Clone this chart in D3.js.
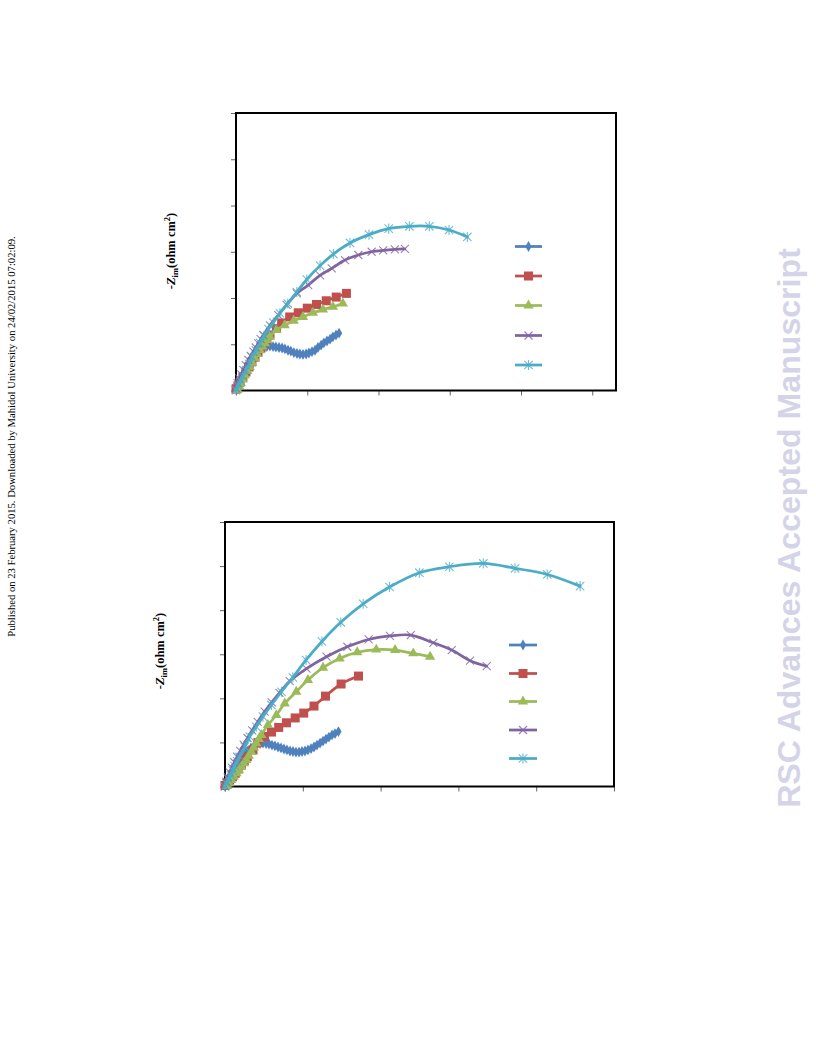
<!DOCTYPE html>
<html>
<head>
<meta charset="utf-8">
<script src="https://cdn.jsdelivr.net/npm/d3@7"></script>
<style>
  html, body { margin: 0; padding: 0; background: #fff; }
  svg { display: block; }
</style>
</head>
<body>
<svg id="page" width="816" height="1056"></svg>
<script>
// ---------- DATA (Zre, -Zim) ----------
const topXTicks = [0, 300, 600, 900, 1200, 1500];
const topYTicks = [0, 100, 200, 300, 400, 500, 600];
const bottomXTicks = [0, 500, 1000, 1500, 2000, 2500];
const bottomYTicks = [0, 200, 400, 600, 800, 1000, 1200];

const topBlue = [[4,3],[8,10],[13,16],[17,23],[23,29],[29,36],[36,42],[42,49],[51,55],[59,62],[67,68],[76,75],[84,81],[93,85],[105,90],[118,93],[130,95],[143,96],[156,95],[168,94],[181,93],[194,92],[206,90],[219,87],[231,85],[244,82],[257,80],[269,79],[282,78],[295,79],[307,81],[320,84],[333,87],[345,93],[358,98],[370,103],[383,107],[396,111],[408,116],[421,120],[434,124]];
const topRed = [[0,3],[8,10],[17,18],[29,29],[42,40],[55,51],[67,62],[80,72],[93,83],[105,92],[118,103],[130,111],[143,120],[170,134],[192,146],[226,159],[262,168],[300,178],[339,186],[380,194],[422,202],[465,210]];
const topGreen = [[6,1],[13,9],[20,16],[28,24],[37,33],[47,42],[58,51],[68,60],[79,70],[89,79],[100,87],[110,95],[121,102],[131,109],[142,116],[170,131],[205,141],[243,151],[282,159],[324,168],[366,175],[408,181],[450,188]];
const topPurple = [[0,5],[7,16],[14,26],[22,35],[31,44],[41,55],[52,66],[62,75],[73,84],[83,93],[94,102],[104,111],[115,120],[143,141],[178,163],[213,185],[256,210],[304,228],[354,249],[403,264],[459,282],[515,293],[571,300],[620,303],[669,305],[711,306]];
const topCyan = [[0,1],[8,10],[19,21],[29,31],[42,44],[55,57],[67,72],[84,87],[101,103],[118,118],[137,133],[157,147],[185,167],[218,188],[256,213],[298,240],[354,270],[410,295],[480,319],[560,337],[643,350],[730,355],[814,355],[897,347],[974,332]];

const bottomBlue = [[0,2],[10,16],[19,29],[29,43],[39,57],[51,70],[64,84],[77,98],[90,111],[103,125],[116,138],[132,152],[148,163],[167,175],[186,184],[206,190],[225,195],[244,197],[264,195],[283,193],[302,188],[321,184],[341,179],[360,175],[379,170],[398,166],[418,161],[437,159],[456,156],[476,156],[495,159],[514,161],[533,166],[553,172],[572,179],[591,188],[611,197],[630,206],[649,215],[668,224],[688,234],[707,240],[729,249]];
const bottomRed = [[0,5],[15,17],[30,29],[48,44],[66,60],[85,79],[105,98],[124,117],[143,135],[180,166],[212,199],[254,227],[299,247],[345,268],[395,289],[451,311],[506,333],[572,365],[646,410],[746,465],[858,501]];
const bottomGreen = [[13,2],[26,15],[40,29],[56,44],[73,60],[89,75],[105,90],[121,105],[137,120],[153,139],[169,158],[185,177],[201,196],[217,215],[233,234],[276,279],[330,324],[384,377],[458,430],[533,483],[630,539],[737,581],[850,609],[972,621],[1093,619],[1210,604],[1318,589]];
const bottomPurple = [[0,2],[8,22],[18,42],[30,64],[44,86],[60,110],[78,135],[98,162],[120,190],[145,220],[175,255],[210,293],[255,340],[300,382],[350,425],[416,478],[524,535],[652,589],[786,634],[923,667],[1060,683],[1194,687],[1339,652],[1457,619],[1575,571],[1682,546]];
const bottomCyan = [[0,0],[8,15],[22,33],[37,52],[50,72],[62,93],[78,114],[94,135],[127,180],[159,226],[201,271],[244,317],[298,370],[363,430],[436,495],[521,574],[623,658],[744,745],[888,829],[1057,905],[1249,970],[1442,997],[1660,1012],[1864,990],[2071,962],[2282,909]];

const seriesStyles = [
  { color: "#4F81BD", marker: "diamond" },
  { color: "#C0504D", marker: "square" },
  { color: "#9BBB59", marker: "triangle" },
  { color: "#8064A2", marker: "cross" },
  { color: "#4BACC6", marker: "star" }
];

const charts = [
  {
    series: [topBlue, topRed, topGreen, topPurple, topCyan],
    xDomain: [0, 1600], yDomain: [0, 600],
    xRange: [236, 616], yRange: [390.5, 113],
    xTicks: topXTicks, yTicks: topYTicks,
    legendX: [515, 542], legendY: [246.5, 276, 305.5, 335.5, 365],
    labelX: 175, labelY: 251
  },
  {
    series: [bottomBlue, bottomRed, bottomGreen, bottomPurple, bottomCyan],
    xDomain: [0, 2500], yDomain: [0, 1200],
    xRange: [225, 614], yRange: [786.5, 522],
    xTicks: bottomXTicks, yTicks: bottomYTicks,
    legendX: [509, 537], legendY: [645, 673.5, 701.5, 730, 758.5],
    labelX: 164, labelY: 651
  }
];

const svg = d3.select("#page");
svg.append("rect").attr("width", 816).attr("height", 1056).attr("fill", "#fff");

function drawMarker(g, type, color, cx, cy) {
  if (type === "diamond") {
    g.append("path").attr("d", d3.symbol().type(d3.symbolDiamond).size(34)())
      .attr("transform", `translate(${cx},${cy})`).attr("fill", color);
  } else if (type === "square") {
    const w = 9;
    g.append("rect").attr("x", cx - w / 2).attr("y", cy - w / 2).attr("width", w).attr("height", w).attr("fill", color);
  } else if (type === "triangle") {
    g.append("path").attr("d", d3.symbol().type(d3.symbolTriangle).size(46)())
      .attr("transform", `translate(${cx},${cy})`).attr("fill", color);
  } else if (type === "cross") {
    const r = 4;
    g.append("path").attr("d", `M${cx - r},${cy - r}L${cx + r},${cy + r}M${cx - r},${cy + r}L${cx + r},${cy - r}`)
      .attr("stroke", color).attr("stroke-width", 1.1).attr("fill", "none").attr("opacity", 0.8);
  } else if (type === "star") {
    const r = 4.2;
    g.append("path").attr("d", `M${cx - r},${cy - r}L${cx + r},${cy + r}M${cx - r},${cy + r}L${cx + r},${cy - r}M${cx},${cy - r * 1.2}L${cx},${cy + r * 1.2}`)
      .attr("stroke", color).attr("stroke-width", 1.1).attr("fill", "none").attr("opacity", 0.8);
  }
}

charts.forEach(c => {
  const x = d3.scaleLinear().domain(c.xDomain).range(c.xRange);
  const y = d3.scaleLinear().domain(c.yDomain).range(c.yRange);
  const g = svg.append("g");

  const xAxis = d3.axisBottom(x).tickValues(c.xTicks).tickSize(5).tickFormat(() => "");
  const yAxis = d3.axisLeft(y).tickValues(c.yTicks).tickSize(5).tickFormat(() => "");
  const gx = g.append("g").attr("transform", `translate(0,${c.yRange[0]})`).call(xAxis);
  const gy = g.append("g").attr("transform", `translate(${c.xRange[0]},0)`).call(yAxis);
  [gx, gy].forEach(a => {
    a.select(".domain").remove();
    a.selectAll("line").attr("stroke", "#666").attr("stroke-width", 1);
  });

  g.append("rect")
    .attr("x", c.xRange[0]).attr("y", c.yRange[1])
    .attr("width", c.xRange[1] - c.xRange[0]).attr("height", c.yRange[0] - c.yRange[1])
    .attr("fill", "none").attr("stroke", "#000").attr("stroke-width", 2);

  const line = d3.line().x(d => x(d[0])).y(d => y(d[1])).curve(d3.curveCatmullRom.alpha(0.5));

  c.series.forEach((data, i) => {
    const st = seriesStyles[i];
    const sg = g.append("g");
    sg.append("path").datum(data).attr("d", line)
      .attr("fill", "none").attr("stroke", st.color).attr("stroke-width", 2.75)
      .attr("stroke-linejoin", "round").attr("stroke-linecap", "round");
    data.forEach(d => drawMarker(sg, st.marker, st.color, x(d[0]), y(d[1])));
  });

  seriesStyles.forEach((st, i) => {
    const ly = c.legendY[i];
    g.append("line").attr("x1", c.legendX[0]).attr("x2", c.legendX[1]).attr("y1", ly).attr("y2", ly)
      .attr("stroke", st.color).attr("stroke-width", 2.75);
    drawMarker(g, st.marker, st.color, (c.legendX[0] + c.legendX[1]) / 2, ly);
  });

  const t = g.append("text")
    .attr("transform", `translate(${c.labelX},${c.labelY}) rotate(-90)`)
    .attr("text-anchor", "middle")
    .attr("font-family", "'Liberation Serif', 'Times New Roman', serif")
    .attr("font-weight", "bold").attr("font-size", 12.5).attr("fill", "#000");
  t.append("tspan").text("-");
  t.append("tspan").attr("font-style", "italic").text("Z");
  t.append("tspan").attr("font-size", 8.5).attr("dy", 3).text("im");
  t.append("tspan").attr("dy", -3).text("(ohm cm");
  t.append("tspan").attr("font-size", 8.5).attr("dy", -5).text("2");
  t.append("tspan").attr("dy", 5).text(")");
});

const note = svg.append("text")
  .attr("transform", "translate(15,436.5) rotate(-90)")
  .attr("text-anchor", "middle")
  .attr("font-family", "'Liberation Serif', 'Times New Roman', serif")
  .attr("font-size", 10).attr("fill", "#000")
  .text("Published on 23 February 2015. Downloaded by Mahidol University on 24/02/2015 07:02:09.");
const nl = note.node().getComputedTextLength();
note.attr("font-size", 10 * 401 / nl);

const wm = svg.append("text")
  .attr("transform", "translate(800,528) rotate(-90)")
  .attr("text-anchor", "middle")
  .attr("font-family", "'Liberation Sans', Arial, sans-serif")
  .attr("font-weight", "bold").attr("font-size", 32).attr("fill", "#d5d3e8")
  .text("RSC Advances Accepted Manuscript");
const wl = wm.node().getComputedTextLength();
wm.attr("font-size", 32 * 560 / wl);
</script>
</body>
</html>
